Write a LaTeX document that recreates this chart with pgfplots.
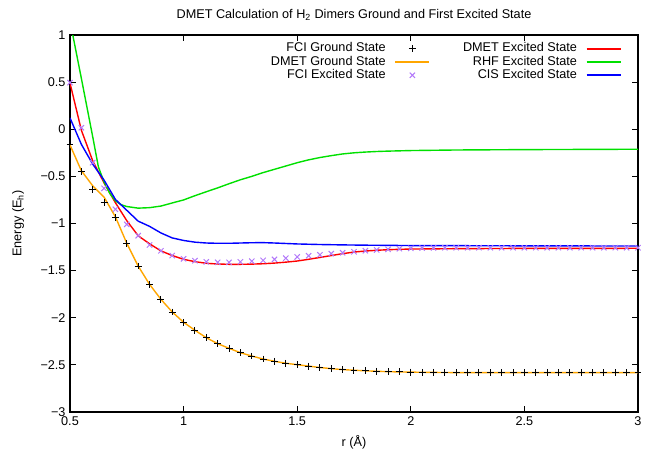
\documentclass[border=0pt]{standalone}
\usepackage{fontspec}
\setmainfont{Liberation Sans}
\usepackage{pgfplots}
\pgfplotsset{compat=1.18}

\definecolor{gpred}{rgb}{1,0,0}
\definecolor{gpgreen}{rgb}{0,0.88,0}
\definecolor{gpblue}{rgb}{0,0,1}
\definecolor{gporange}{rgb}{1,0.65,0}
\definecolor{gppurple}{rgb}{0.7,0.47,0.98}

\pgfplotsset{
  gpline/.style={line width=1.05pt, mark=none,
    legend image code/.code={\draw[##1, line width=1.4pt] (0cm,0cm) -- (0.9cm,0cm);}},
  gpmarks/.style={only marks, mark options={line width=0.75pt},
    legend image code/.code={\draw[##1] plot coordinates {(0.45cm,0cm)};}},
}

\begin{document}
\fontsize{9.5}{11.5}\selectfont
\begin{tikzpicture}
\useasboundingbox (-52.5pt,-31.5pt) rectangle (435.75pt,309pt);
\begin{axis}[
  scale only axis,
  width=426pt, height=282.75pt,
  xmin=0.5, xmax=3, ymin=-3, ymax=1,
  xtick={0.5,1,...,3},
  xticklabels={0.5,1,1.5,2,2.5,3},
  ytick={-3,-2.5,...,1},
  yticklabels={−3,−2.5,−2,−1.5,−1,−0.5,0,0.5,1},
  tick align=inside,
  major tick length=4.5pt,
  axis line style={line width=0.9pt},
  every tick/.style={black, line width=0.6pt},
  title={DMET Calculation of H\textsubscript{2} Dimers Ground and First Excited State},
  title style={at={(axis description cs:0.5,1)}, anchor=center, yshift=9pt},
  xlabel={r (Å)},
  xlabel style={at={(axis description cs:0.5,0)}, anchor=center, yshift=-23pt},
  ylabel={Energy (E\textsubscript{h})},
  ylabel style={at={(axis description cs:-0.0915,0.5)}, anchor=center},
  legend columns=2,
  legend cell align=right,
  legend plot pos=right,
  legend style={at={(1,1)}, anchor=north east, xshift=-9pt, yshift=-3pt,
    draw=none, fill=none, row sep=0pt,
    nodes={inner sep=0.5pt, text height=7pt, text depth=2pt},
    /tikz/every even column/.append style={column sep=24pt},
    /tikz/every odd column/.append style={column sep=6pt}},
]
% FCI ground state
\addplot[gpmarks, mark=+, mark size=2.6pt, color=black, forget plot] coordinates {
(0.5,-0.167) (0.55,-0.447) (0.6,-0.641) (0.65,-0.777) (0.7,-0.936)
(0.75,-1.210) (0.8,-1.451) (0.85,-1.645) (0.9,-1.804) (0.95,-1.939)
(1.0,-2.048) (1.05,-2.133) (1.1,-2.212) (1.15,-2.275) (1.2,-2.324)
(1.25,-2.371) (1.3,-2.406) (1.35,-2.438) (1.4,-2.462) (1.45,-2.483)
(1.5,-2.498) (1.55,-2.513) (1.6,-2.528) (1.65,-2.540) (1.7,-2.550)
(1.75,-2.557) (1.8,-2.563) (1.85,-2.568) (1.9,-2.572) (1.95,-2.575)
(2.0,-2.577) (2.05,-2.579) (2.1,-2.580) (2.15,-2.581) (2.2,-2.582)
(2.25,-2.582) (2.3,-2.582) (2.35,-2.582) (2.4,-2.582) (2.45,-2.582)
(2.5,-2.582) (2.55,-2.582) (2.6,-2.582) (2.65,-2.582) (2.7,-2.582)
(2.75,-2.582) (2.8,-2.582) (2.85,-2.582) (2.9,-2.582) (2.95,-2.582)
(3.0,-2.582)
};
% DMET ground state
\addplot[gpline, color=gporange, forget plot] coordinates {
(0.5,-0.167) (0.55,-0.44) (0.6,-0.60) (0.65,-0.72) (0.7,-0.93)
(0.75,-1.210) (0.8,-1.451) (0.85,-1.645) (0.9,-1.804) (0.95,-1.939)
(1.0,-2.048) (1.05,-2.133) (1.1,-2.212) (1.15,-2.275) (1.2,-2.324)
(1.25,-2.371) (1.3,-2.406) (1.35,-2.438) (1.4,-2.462) (1.45,-2.483)
(1.5,-2.498) (1.55,-2.513) (1.6,-2.528) (1.65,-2.540) (1.7,-2.550)
(1.75,-2.557) (1.8,-2.563) (1.85,-2.568) (1.9,-2.572) (1.95,-2.575)
(2.0,-2.577) (2.1,-2.580) (2.2,-2.582) (3.0,-2.582)
};
% FCI excited state
\addplot[gpmarks, mark=x, mark size=2.8pt, color=gppurple, forget plot] coordinates {
(0.5,0.494) (0.55,0.016) (0.6,-0.355) (0.65,-0.627) (0.7,-0.849)
(0.75,-1.009) (0.8,-1.129) (0.85,-1.228) (0.9,-1.290) (0.95,-1.340)
(1.0,-1.375) (1.05,-1.395) (1.1,-1.407) (1.15,-1.412) (1.2,-1.412)
(1.25,-1.407) (1.3,-1.400) (1.35,-1.391) (1.4,-1.381) (1.45,-1.368)
(1.5,-1.355) (1.55,-1.342) (1.6,-1.332) (1.65,-1.320) (1.7,-1.310)
(1.75,-1.300) (1.8,-1.289) (1.85,-1.281) (1.9,-1.274) (1.95,-1.267)
(2.0,-1.263) (2.05,-1.260) (2.1,-1.258) (2.15,-1.257) (2.2,-1.257)
(2.25,-1.257) (2.3,-1.257) (2.35,-1.257) (2.4,-1.257) (2.45,-1.257)
(2.5,-1.257) (2.55,-1.257) (2.6,-1.257) (2.65,-1.257) (2.7,-1.257)
(2.75,-1.257) (2.8,-1.257) (2.85,-1.257) (2.9,-1.257) (2.95,-1.257)
(3.0,-1.257)
};
% DMET excited state
\addplot[gpline, color=gpred, forget plot] coordinates {
(0.5,0.49) (0.55,-0.01) (0.6,-0.335) (0.65,-0.57) (0.7,-0.78)
(0.75,-0.97) (0.8,-1.13) (0.85,-1.215) (0.9,-1.29) (0.95,-1.34)
(1.0,-1.38) (1.05,-1.405) (1.1,-1.422) (1.15,-1.43) (1.2,-1.433)
(1.25,-1.433) (1.3,-1.431) (1.35,-1.427) (1.4,-1.42) (1.45,-1.41)
(1.5,-1.398) (1.55,-1.38) (1.6,-1.36) (1.65,-1.34) (1.7,-1.32)
(1.75,-1.303) (1.8,-1.292) (1.85,-1.284) (1.9,-1.278) (1.95,-1.274)
(2.0,-1.271) (2.2,-1.267) (2.5,-1.264) (3.0,-1.263)
};
% RHF excited state
\addplot[gpline, color=gpgreen, forget plot] coordinates {
(0.5,1.15) (0.55,0.54) (0.6,-0.08) (0.625,-0.40) (0.65,-0.56)
(0.675,-0.68) (0.7,-0.76) (0.725,-0.80) (0.75,-0.82) (0.8,-0.837)
(0.85,-0.832) (0.9,-0.815) (0.95,-0.782) (1.0,-0.75) (1.05,-0.705)
(1.1,-0.663) (1.15,-0.622) (1.2,-0.578) (1.25,-0.536) (1.3,-0.50)
(1.35,-0.46) (1.4,-0.425) (1.45,-0.39) (1.5,-0.355) (1.55,-0.325)
(1.6,-0.30) (1.65,-0.28) (1.7,-0.262) (1.75,-0.25) (1.8,-0.242)
(1.85,-0.236) (1.9,-0.232) (2.0,-0.226) (2.2,-0.22) (2.5,-0.216)
(3.0,-0.212)
};
% CIS excited state
\addplot[gpline, color=gpblue, forget plot] coordinates {
(0.5,0.12) (0.55,-0.16) (0.6,-0.37) (0.65,-0.54) (0.7,-0.745)
(0.75,-0.86) (0.8,-0.975) (0.85,-1.03) (0.9,-1.10) (0.95,-1.153)
(1.0,-1.18) (1.05,-1.198) (1.1,-1.207) (1.15,-1.21) (1.2,-1.21)
(1.25,-1.207) (1.3,-1.204) (1.35,-1.203) (1.4,-1.207) (1.45,-1.212)
(1.5,-1.217) (1.6,-1.223) (1.7,-1.227) (1.8,-1.23) (2.0,-1.234)
(2.5,-1.237) (3.0,-1.239)
};
% legend, row by row (gnuplot fills it column by column)
\addlegendimage{gpmarks, mark=+, mark size=2.6pt, color=black}
\addlegendentry{FCI Ground State}
\addlegendimage{gpline, color=gpred}
\addlegendentry{DMET Excited State}
\addlegendimage{gpline, color=gporange}
\addlegendentry{DMET Ground State}
\addlegendimage{gpline, color=gpgreen}
\addlegendentry{RHF Excited State}
\addlegendimage{gpmarks, mark=x, mark size=2.8pt, color=gppurple}
\addlegendentry{FCI Excited State}
\addlegendimage{gpline, color=gpblue}
\addlegendentry{CIS Excited State}
\end{axis}
\end{tikzpicture}
\end{document}
